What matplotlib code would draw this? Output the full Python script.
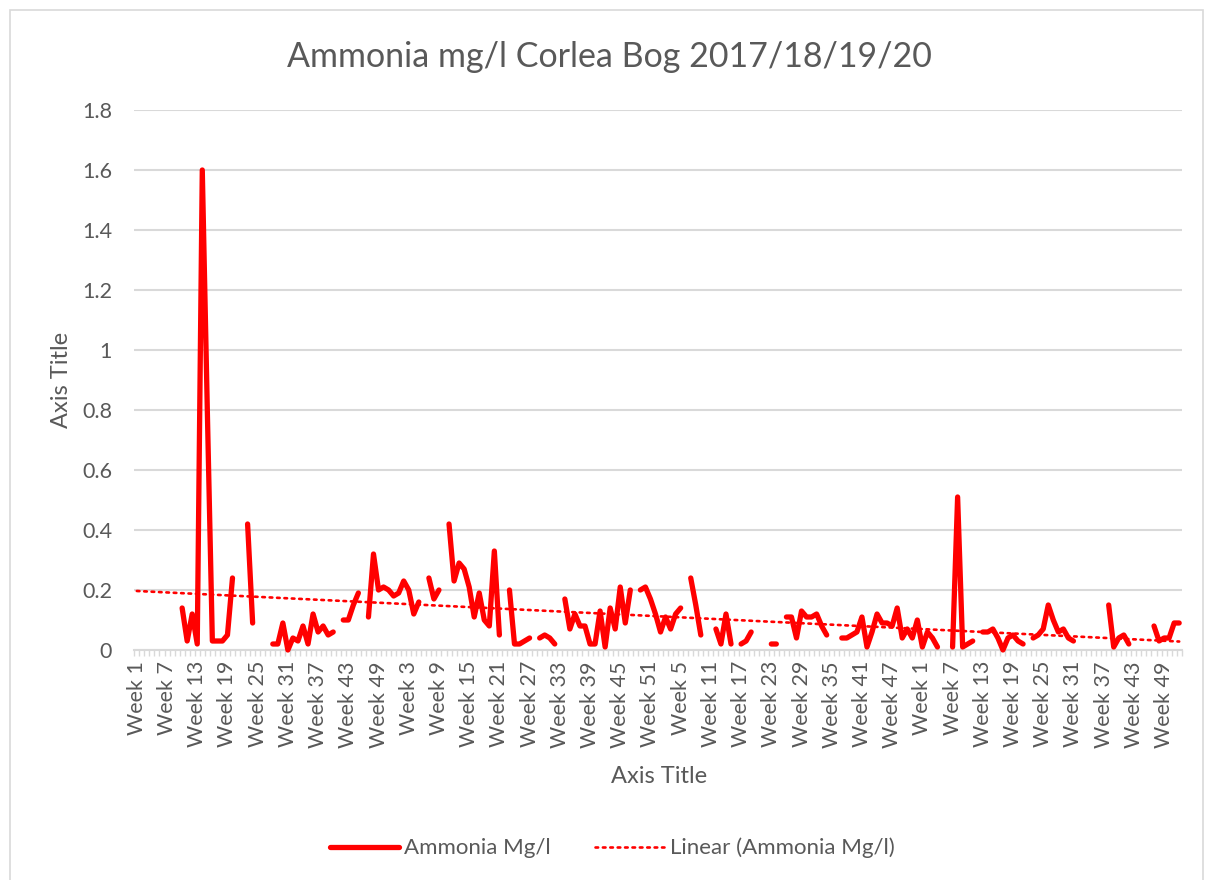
import numpy as np
import matplotlib
matplotlib.use("Agg")
import matplotlib.pyplot as plt
from matplotlib.patches import Rectangle

plt.rcParams['font.family'] = ['Lato', 'DejaVu Sans']

n = np.nan
# weekly ammonia readings (mg/l), 52 weeks per year, blanks = no sample
ammonia_2017 = [n, n, n, n, n, n, n, n, n, 0.14,
                0.03, 0.12, 0.02, 1.6, 0.8, 0.03, 0.03, 0.03, 0.05, 0.24,
                n, n, 0.42, 0.09, n, n, n, 0.02, 0.02, 0.09,
                0.0, 0.04, 0.03, 0.08, 0.02, 0.12, 0.06, 0.08, 0.05, 0.06,
                n, 0.1, 0.1, 0.15, 0.19, n, 0.11, 0.32, 0.2, 0.21,
                0.2, 0.18]
ammonia_2018 = [0.19, 0.23, 0.2, 0.12, 0.16, n, 0.24, 0.17, 0.2, n,
                0.42, 0.23, 0.29, 0.27, 0.21, 0.11, 0.19, 0.1, 0.08, 0.33,
                0.05, n, 0.2, 0.02, 0.02, 0.03, 0.04, n, 0.04, 0.05,
                0.04, 0.02, n, 0.17, 0.07, 0.12, 0.08, 0.08, 0.02, 0.02,
                0.13, 0.01, 0.14, 0.07, 0.21, 0.09, 0.2, n, 0.2, 0.21,
                0.17, 0.12]
ammonia_2019 = [0.06, 0.11, 0.07, 0.12, 0.14, n, 0.24, 0.15, 0.05, n,
                n, 0.07, 0.02, 0.12, 0.02, n, 0.02, 0.03, 0.06, n,
                n, n, 0.02, 0.02, n, 0.11, 0.11, 0.04, 0.13, 0.11,
                0.11, 0.12, 0.08, 0.05, n, n, 0.04, 0.04, 0.05, 0.06,
                0.11, 0.01, 0.06, 0.12, 0.09, 0.09, 0.08, 0.14, 0.04, 0.07,
                0.04, 0.1]
ammonia_2020 = [0.01, 0.06, 0.04, 0.01, n, n, 0.01, 0.51, 0.01, 0.02,
                0.03, n, 0.06, 0.06, 0.07, 0.04, 0.0, 0.04, 0.05, 0.03,
                0.02, n, 0.04, 0.05, 0.07, 0.15, 0.1, 0.06, 0.07, 0.04,
                0.03, n, n, n, n, n, n, 0.15, 0.01, 0.04,
                0.05, 0.02, n, n, n, n, 0.08, 0.03, 0.04, 0.04,
                0.09, 0.09]

years = [ammonia_2017, ammonia_2018, ammonia_2019, ammonia_2020]
weeks = [f"Week {w}" for yr in years for w in range(1, 53)]
values = np.array(sum(years, []), dtype=float)
x = np.arange(len(values))

grey = '#595959'
grid = '#D9D9D9'

fig = plt.figure(figsize=(12.06, 8.8), dpi=100)
fig.patches.append(Rectangle((10 / 1206, -0.05), 1193 / 1206, 1.05 - 10 / 880,
                             transform=fig.transFigure, fill=False,
                             edgecolor=grid, lw=1.2))
ax = fig.add_axes([134.3 / 1206, 1 - 650 / 880, 1047.4 / 1206, 540 / 880])

ax.plot(x, values, color='#FF0000', lw=3.8, solid_capstyle='round',
        solid_joinstyle='round', clip_on=False, zorder=3,
        label='Ammonia Mg/l')

# linear trendline over the sampled weeks
ok = ~np.isnan(values)
slope, icpt = np.polyfit(x[ok], values[ok], 1)
ax.plot(x, slope * x + icpt, color='#FF0000', lw=1.9,
        linestyle=(0, (1, 1.8)), dash_capstyle='round', zorder=2,
        label='Linear (Ammonia Mg/l)')

ax.set_xlim(-0.5, len(values) - 0.5)
ax.set_ylim(0, 1.8)
ax.set_yticks(np.arange(0, 1.81, 0.2))
ax.set_yticklabels([f"{v:g}" for v in np.arange(0, 1.81, 0.2).round(1)])
ax.yaxis.grid(True, color=grid, lw=1.5)
ax.set_axisbelow(True)

ax.set_xticks(x[::6])
ax.set_xticklabels(weeks[::6], rotation=90)
ax.set_xticks(np.arange(-0.5, len(values), 1), minor=True)
ax.tick_params(axis='x', which='major', length=0, pad=8, labelsize=15.5,
               labelcolor=grey)
ax.tick_params(axis='x', which='minor', length=4, width=1, color=grid)
ax.tick_params(axis='y', length=0, pad=16, labelsize=15.5, labelcolor=grey)

for s in ['left', 'right', 'top']:
    ax.spines[s].set_visible(False)
ax.spines['bottom'].set_color(grid)
ax.spines['bottom'].set_linewidth(1.5)

fig.text(609.5 / 1206, 1 - 57 / 880, 'Ammonia mg/l Corlea Bog 2017/18/19/20',
         ha='center', va='center', fontsize=24.5, color=grey)
fig.text(659 / 1206, 1 - 776 / 880, 'Axis Title', ha='center', va='center',
         fontsize=17, color=grey)
fig.text(61 / 1206, 1 - 380 / 880, 'Axis Title', ha='center', va='center',
         rotation=90, fontsize=17, color=grey)

fig.legend(loc='center', bbox_to_anchor=(612 / 1206, 1 - 848 / 880), ncol=2,
           frameon=False, fontsize=16, labelcolor=grey, handlelength=3.1,
           columnspacing=2.0, handletextpad=0.25)

fig.savefig('out.png', dpi=100)
